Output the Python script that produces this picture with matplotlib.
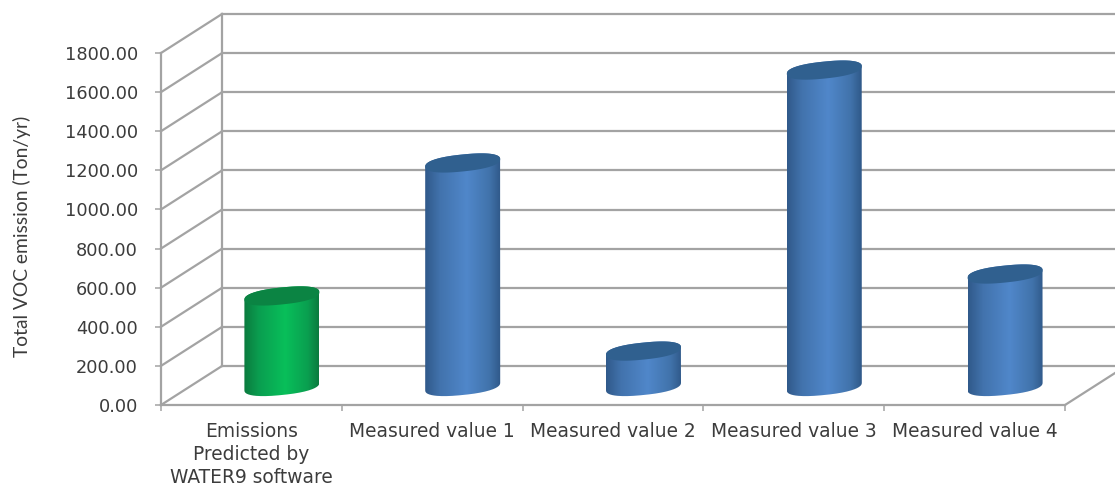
# -*- coding: utf-8 -*-
"""
Total VOC emission: WATER9 prediction against four measured values.

Draws an office style 3D cylinder column chart on ordinary 2D axes.
"""

import numpy as np
import matplotlib.pyplot as plt
from matplotlib.colors import LinearSegmentedColormap
from matplotlib.patches import PathPatch
from matplotlib.path import Path

#  Chart data
CATEGORIES = ['Emissions\nPredicted by\nWATER9 software', 'Measured value 1',
              'Measured value 2', 'Measured value 3', 'Measured value 4']
EMISSIONS = [458, 1138, 176, 1613, 570]
Y_TICKS = [0, 200, 400, 600, 800, 1000, 1200, 1400, 1600, 1800]

#  Figure layout, in pixels
WIDTH = 1115
HEIGHT = 486
LEFT = 161
RIGHT = 1065
BOTTOM = 405
TOP = 53

#  Size of one pixel in data units
PIXEL_X = len(CATEGORIES) / (RIGHT - LEFT)
PIXEL_Y = Y_TICKS[-1] / (BOTTOM - TOP)

#  Depth of the box and shape of the cylinders
DEPTH_X = 61 * PIXEL_X
DEPTH_Y = 39 * PIXEL_Y
RADIUS = 37.5
CAP_HEIGHT = 8.5
CAP_TILT = 0.1
CAP_SQUARENESS = 0.85
BASE_DROP = 1 * PIXEL_Y

GRID_COLOUR = '#a3a3a3'
TEXT_COLOUR = '#3c3c3c'

BLUE = LinearSegmentedColormap.from_list(
    'blue', [(0, '#30598a'), (0.2, '#4273ad'), (0.55, '#5087ca'),
             (0.85, '#4173ab'), (1, '#2f5888')])
GREEN = LinearSegmentedColormap.from_list(
    'green', [(0, '#0b7a3e'), (0.2, '#0a9e50'), (0.55, '#08bf5a'),
              (0.85, '#0a9f50'), (1, '#0b7a3e')])


def ellipse(x_centre, y_centre, start, stop):
    """Returns the points of a cylinder end between two angles"""
    angle = np.linspace(start, stop, 80)
    cosine = np.cos(angle)
    sine = np.sin(angle)
    x_pixels = RADIUS * np.sign(cosine) * np.abs(cosine)**CAP_SQUARENESS
    y_pixels = (CAP_HEIGHT * np.sign(sine) * np.abs(sine)**CAP_SQUARENESS
                + CAP_TILT * x_pixels)

    return np.column_stack((x_centre + x_pixels * PIXEL_X,
                            y_centre + y_pixels * PIXEL_Y))


def draw_cylinder(axes, position, value, colour_map, cap_colour):
    """Draws one column with a shaded body and a flat top"""
    x_centre = position + 0.5 + DEPTH_X / 2
    base = DEPTH_Y / 2 - BASE_DROP
    top = DEPTH_Y / 2 + value

    outline = np.vstack((ellipse(x_centre, base, np.pi, 2 * np.pi),
                         ellipse(x_centre, top, 0, np.pi)))
    body = PathPatch(Path(outline), facecolor='none', edgecolor='none',
                     transform=axes.transData)
    axes.add_patch(body)

    half_width = RADIUS * PIXEL_X
    shading = axes.imshow(np.linspace(0, 1, 256)[np.newaxis, :],
                          cmap=colour_map, aspect='auto', zorder=3,
                          extent=(x_centre - half_width,
                                  x_centre + half_width,
                                  0, top + 2 * CAP_HEIGHT * PIXEL_Y))
    shading.set_clip_path(body)

    axes.add_patch(PathPatch(Path(ellipse(x_centre, top, 0, 2 * np.pi)),
                             facecolor=cap_colour, edgecolor='none',
                             zorder=4))


def draw_box(axes):
    """Draws the back wall, the side wall and the floor"""
    x_back_right = len(CATEGORIES) + DEPTH_X
    style = {'color': GRID_COLOUR, 'linewidth': 1.6, 'clip_on': False,
             'zorder': 1}

    for tick in Y_TICKS:
        axes.plot([0, DEPTH_X], [tick, tick + DEPTH_Y], **style)
        axes.plot([DEPTH_X, x_back_right],
                  [tick + DEPTH_Y, tick + DEPTH_Y], **style)

    axes.plot([DEPTH_X, DEPTH_X], [DEPTH_Y, Y_TICKS[-1] + DEPTH_Y], **style)
    axes.plot([len(CATEGORIES), x_back_right], [0, DEPTH_Y], **style)


FIGURE = plt.figure(figsize=(WIDTH / 100, HEIGHT / 100), dpi=100)
AXES = FIGURE.add_axes([LEFT / WIDTH, 1 - BOTTOM / HEIGHT,
                        (RIGHT - LEFT) / WIDTH, (BOTTOM - TOP) / HEIGHT])

draw_box(AXES)

for index, emission in enumerate(EMISSIONS):
    if index == 0:
        draw_cylinder(AXES, index, emission, GREEN, '#0b8443')
    else:
        draw_cylinder(AXES, index, emission, BLUE, '#30608f')

AXES.set_xlim(0, len(CATEGORIES))
AXES.set_ylim(0, Y_TICKS[-1])

for side in ['top', 'right']:
    AXES.spines[side].set_visible(False)
for side in ['left', 'bottom']:
    AXES.spines[side].set_color(GRID_COLOUR)
    AXES.spines[side].set_linewidth(1.6)

AXES.set_yticks(Y_TICKS)
AXES.set_yticklabels(['{0:.2f}'.format(tick) for tick in Y_TICKS])
AXES.tick_params(axis='y', length=4.5, width=1.1, color=GRID_COLOUR, pad=12,
                 labelsize=12.8, labelcolor=TEXT_COLOUR)

#  Major ticks separate the categories, minor ticks carry the names
AXES.set_xticks(np.arange(len(CATEGORIES) + 1))
AXES.set_xticklabels([])
AXES.set_xticks(np.arange(len(CATEGORIES)) + 0.5, minor=True)
AXES.set_xticklabels(CATEGORIES, minor=True, linespacing=1.27)
AXES.tick_params(axis='x', which='major', length=4.5, width=1.1,
                 color=GRID_COLOUR)
AXES.tick_params(axis='x', which='minor', length=0, pad=12.5, labelsize=13.4,
                 labelcolor=TEXT_COLOUR)

FIGURE.text(22 / WIDTH, 1 - 236 / HEIGHT, 'Total VOC emission (Ton/yr)',
            rotation=90, ha='center', va='center', fontsize=13.9,
            family=['Lato', 'DejaVu Sans'], color=TEXT_COLOUR)

FIGURE.savefig('out.png', dpi=100)
